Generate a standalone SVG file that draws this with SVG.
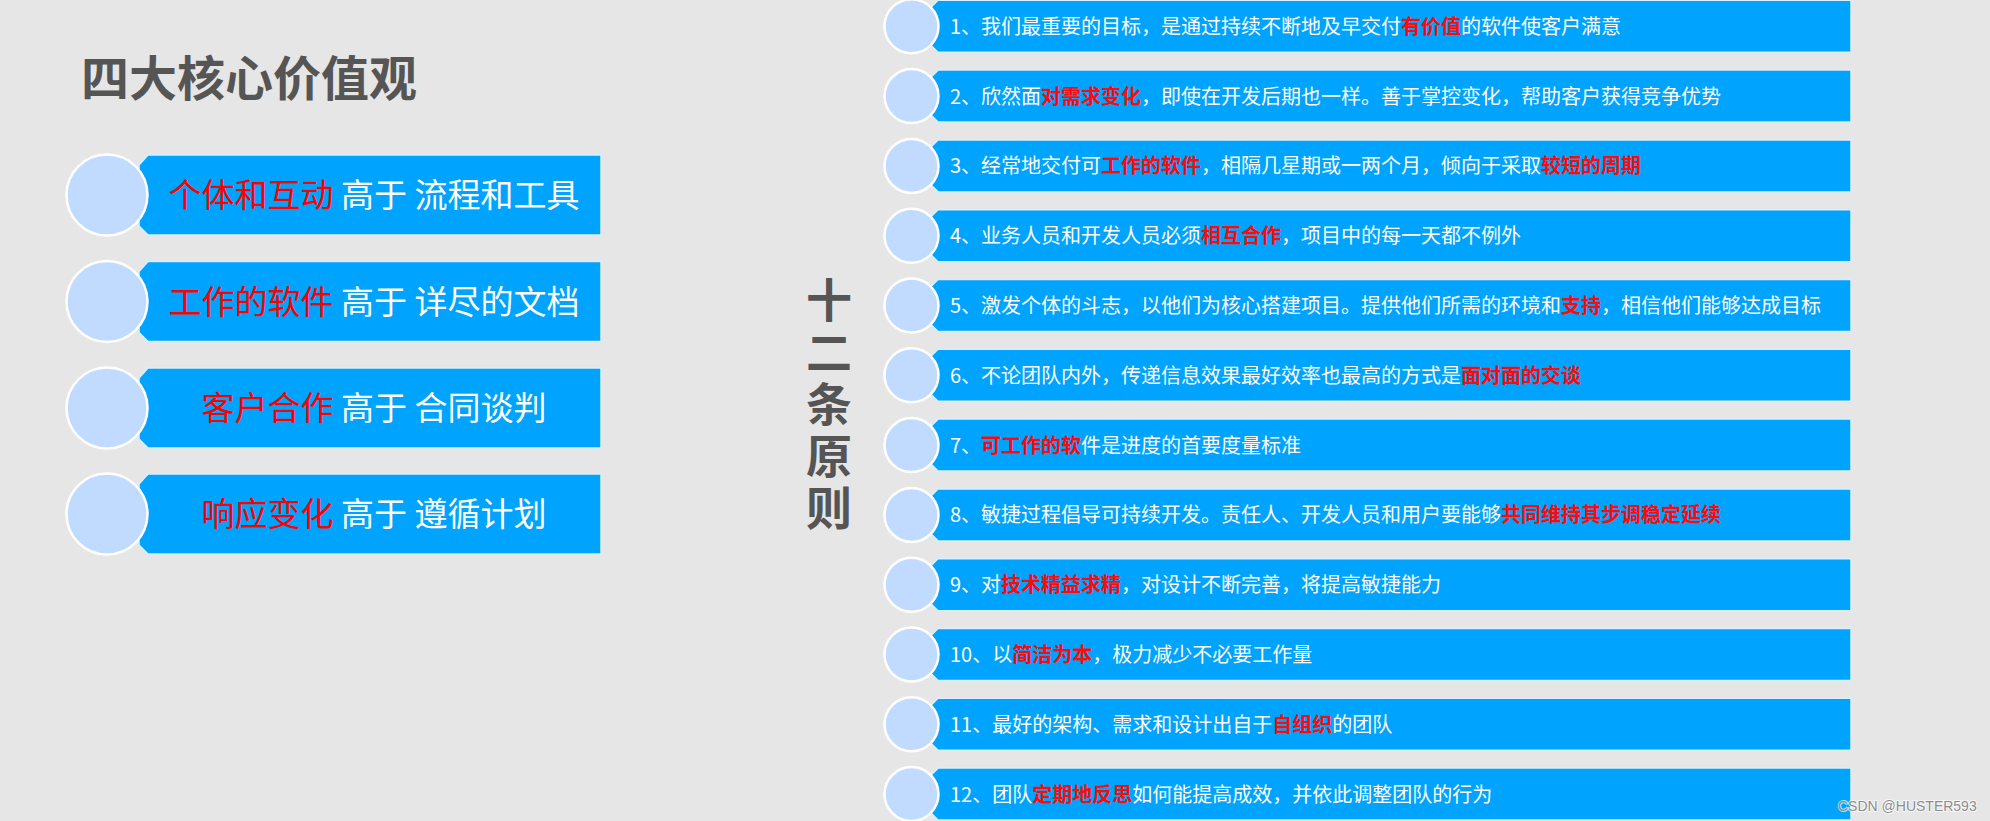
<svg xmlns="http://www.w3.org/2000/svg" xmlns:xlink="http://www.w3.org/1999/xlink" width="1990" height="821" viewBox="0 0 1990 821">
<style>
.bg{fill:#e6e6e6}
.box{fill:#00a3fd;stroke:#d8efff;stroke-width:1.5}
.dot{fill:#c0dbff;stroke:#ffffff;stroke-width:2.5}
.title{font-family:"Noto Sans CJK SC","Noto Sans",sans-serif;font-weight:bold;fill:#555555}
.lt{font-family:"Noto Sans CJK SC","Noto Sans",sans-serif;font-size:33px;fill:#ffffff;text-anchor:middle}
.rt{font-family:"Noto Sans CJK SC","Noto Sans",sans-serif;font-size:20px;fill:#ffffff}
.red{fill:#ff0000}
.rb{fill:#ff0a0a;font-weight:bold}
.wm{font-family:"Liberation Sans",Arial,sans-serif;font-size:14px;fill:#8c8c8c;stroke:#ffffff;stroke-width:2;stroke-opacity:0.7;paint-order:stroke}
</style>
<defs>
<path id="lbox" d="M148,0 H601 V80 H148 L139,71 V10 Z"/>
<path id="rbox" d="M938,0 H1851 V52 H938 L931,45 V7 Z"/>
</defs>
<rect class="bg" x="0" y="0" width="1990" height="821"/>

<g id="title-values">
<text class="title" x="81" y="96" font-size="48">四大核心价值观</text>
</g>

<g id="value-1">
<use href="#lbox" class="box" y="155"/>
<circle class="dot" cx="107" cy="195" r="40.5"/>
<text class="lt" x="374" y="207"><tspan class="red">个体和互动</tspan> 高于 流程和工具</text>
</g>
<g id="value-2">
<use href="#lbox" class="box" y="261.5"/>
<circle class="dot" cx="107" cy="301.5" r="40.5"/>
<text class="lt" x="374" y="313.5"><tspan class="red">工作的软件</tspan> 高于 详尽的文档</text>
</g>
<g id="value-3">
<use href="#lbox" class="box" y="368"/>
<circle class="dot" cx="107" cy="408" r="40.5"/>
<text class="lt" x="374" y="420"><tspan class="red">客户合作</tspan> 高于 合同谈判</text>
</g>
<g id="value-4">
<use href="#lbox" class="box" y="474"/>
<circle class="dot" cx="107" cy="514" r="40.5"/>
<text class="lt" x="374" y="526"><tspan class="red">响应变化</tspan> 高于 遵循计划</text>
</g>

<g id="title-principles">
<text class="title" font-size="46" writing-mode="vertical-rl" letter-spacing="6" x="829" y="277">十二条原则</text>
</g>

<g id="principle-1">
<use href="#rbox" class="box" y="0.3"/>
<circle class="dot" cx="911.5" cy="26.3" r="27"/>
<text class="rt" x="950" y="33.8">1、我们最重要的目标，是通过持续不断地及早交付<tspan class="rb">有价值</tspan>的软件使客户满意</text>
</g>
<g id="principle-2">
<use href="#rbox" class="box" y="70.1"/>
<circle class="dot" cx="911.5" cy="96.1" r="27"/>
<text class="rt" x="950" y="103.6">2、欣然面<tspan class="rb">对需求变化</tspan>，即使在开发后期也一样。善于掌控变化，帮助客户获得竞争优势</text>
</g>
<g id="principle-3">
<use href="#rbox" class="box" y="139.9"/>
<circle class="dot" cx="911.5" cy="165.9" r="27"/>
<text class="rt" x="950" y="173.4">3、经常地交付可<tspan class="rb">工作的软件</tspan>，相隔几星期或一两个月，倾向于采取<tspan class="rb">较短的周期</tspan></text>
</g>
<g id="principle-4">
<use href="#rbox" class="box" y="209.7"/>
<circle class="dot" cx="911.5" cy="235.7" r="27"/>
<text class="rt" x="950" y="243.2">4、业务人员和开发人员必须<tspan class="rb">相互合作</tspan>，项目中的每一天都不例外</text>
</g>
<g id="principle-5">
<use href="#rbox" class="box" y="279.5"/>
<circle class="dot" cx="911.5" cy="305.5" r="27"/>
<text class="rt" x="950" y="313">5、激发个体的斗志，以他们为核心搭建项目。提供他们所需的环境和<tspan class="rb">支持</tspan>，相信他们能够达成目标</text>
</g>
<g id="principle-6">
<use href="#rbox" class="box" y="349.3"/>
<circle class="dot" cx="911.5" cy="375.3" r="27"/>
<text class="rt" x="950" y="382.8">6、不论团队内外，传递信息效果最好效率也最高的方式是<tspan class="rb">面对面的交谈</tspan></text>
</g>
<g id="principle-7">
<use href="#rbox" class="box" y="419.1"/>
<circle class="dot" cx="911.5" cy="445.1" r="27"/>
<text class="rt" x="950" y="452.6">7、<tspan class="rb">可工作的软</tspan>件是进度的首要度量标准</text>
</g>
<g id="principle-8">
<use href="#rbox" class="box" y="488.9"/>
<circle class="dot" cx="911.5" cy="514.9" r="27"/>
<text class="rt" x="950" y="522.4">8、敏捷过程倡导可持续开发。责任人、开发人员和用户要能够<tspan class="rb">共同维持其步调稳定延续</tspan></text>
</g>
<g id="principle-9">
<use href="#rbox" class="box" y="558.7"/>
<circle class="dot" cx="911.5" cy="584.7" r="27"/>
<text class="rt" x="950" y="592.2">9、对<tspan class="rb">技术精益求精</tspan>，对设计不断完善，将提高敏捷能力</text>
</g>
<g id="principle-10">
<use href="#rbox" class="box" y="628.5"/>
<circle class="dot" cx="911.5" cy="654.5" r="27"/>
<text class="rt" x="950" y="662">10、以<tspan class="rb">简洁为本</tspan>，极力减少不必要工作量</text>
</g>
<g id="principle-11">
<use href="#rbox" class="box" y="698.3"/>
<circle class="dot" cx="911.5" cy="724.3" r="27"/>
<text class="rt" x="950" y="731.8">11、最好的架构、需求和设计出自于<tspan class="rb">自组织</tspan>的团队</text>
</g>
<g id="principle-12">
<use href="#rbox" class="box" y="768.1"/>
<circle class="dot" cx="911.5" cy="794.1" r="27"/>
<text class="rt" x="950" y="801.6">12、团队<tspan class="rb">定期地反思</tspan>如何能提高成效，并依此调整团队的行为</text>
</g>

<g id="connectors"></g>

<text class="wm" x="1838" y="811">CSDN @HUSTER593</text>
</svg>
